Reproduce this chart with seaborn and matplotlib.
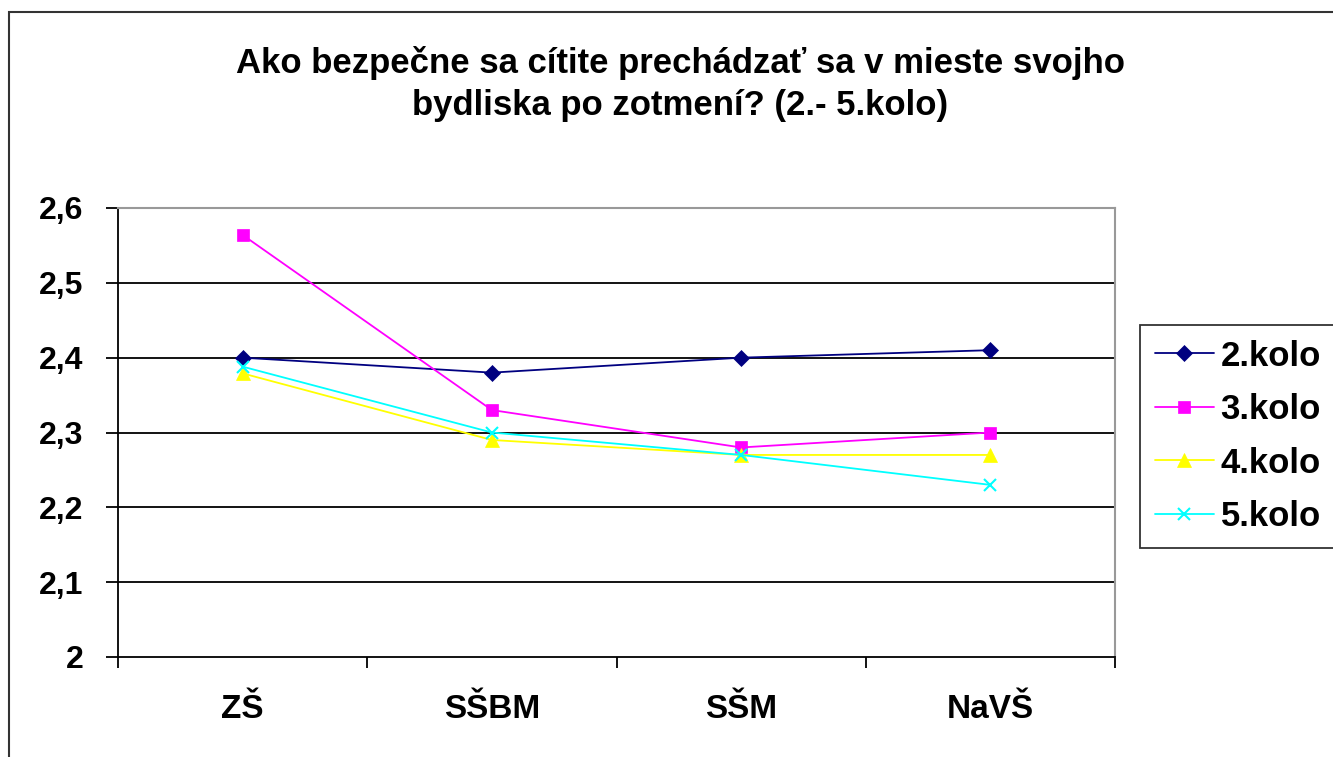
import matplotlib
matplotlib.use("Agg")
import matplotlib.pyplot as plt
import seaborn as sns
import pandas as pd
from matplotlib.patches import Rectangle

categories = ["ZŠ", "SŠBM", "SŠM", "NaVŠ"]
kolo2 = [2.40, 2.38, 2.40, 2.41]
kolo3 = [2.564, 2.33, 2.28, 2.30]
kolo4 = [2.379, 2.29, 2.27, 2.27]
kolo5 = [2.388, 2.30, 2.27, 2.23]
series_names = ["2.kolo", "3.kolo", "4.kolo", "5.kolo"]
y_ticks = [2.0, 2.1, 2.2, 2.3, 2.4, 2.5, 2.6]
y_labels = ["2", "2,1", "2,2", "2,3", "2,4", "2,5", "2,6"]

rows = []
for name, vals in zip(series_names, [kolo2, kolo3, kolo4, kolo5]):
    for i, v in enumerate(vals):
        rows.append({"x": i, "kategoria": categories[i], "kolo": name, "hodnota": v})
df = pd.DataFrame(rows)

sns.set_theme(style="white")
plt.rcParams["font.family"] = ["Liberation Sans", "DejaVu Sans"]
plt.rcParams["text.color"] = "black"
plt.rcParams["xtick.color"] = "black"
plt.rcParams["ytick.color"] = "black"

colors = {"2.kolo": "#000080", "3.kolo": "#FF00FF", "4.kolo": "#FFFF00", "5.kolo": "#00FFFF"}
markers = {"2.kolo": "D", "3.kolo": "s", "4.kolo": "^", "5.kolo": "x"}
msizes = {"2.kolo": 8, "3.kolo": 9, "4.kolo": 10, "5.kolo": 8}

fig = plt.figure(figsize=(13.33, 7.57), dpi=100)
ax = fig.add_axes([118 / 1333, 1 - 657 / 757, (1115 - 118) / 1333, (657 - 208) / 757])

# gridlines
for t in y_ticks[1:-1]:
    ax.axhline(t, color="black", lw=1.3, zorder=1)

for name in series_names:
    sub = df[df["kolo"] == name]
    sns.lineplot(data=sub, x="x", y="hodnota", ax=ax, color=colors[name], lw=1.3,
                 marker=markers[name], markersize=msizes[name],
                 markeredgecolor=colors[name], markeredgewidth=1.5 if name == "5.kolo" else 0.5,
                 label=name, zorder=3, legend=False)

ax.set_xlim(-0.5, 3.5)
ax.set_ylim(2.0, 2.6)
ax.set_yticks(y_ticks)
ax.set_yticklabels(y_labels, fontsize=23, fontweight="bold")
ax.set_xticks([-0.5, 0.5, 1.5, 2.5, 3.5])
ax.set_xticklabels([])
for i, c in enumerate(categories):
    ax.text(i, -0.116, c, transform=ax.get_xaxis_transform(), ha="center", va="center",
            fontsize=24, fontweight="bold")
ax.tick_params(axis="x", direction="out", length=8, width=1.3, bottom=True)
ax.tick_params(axis="y", direction="out", length=9, width=1.3, left=True, pad=16)
ax.set_xlabel("")
ax.set_ylabel("")

for side in ["left", "bottom"]:
    ax.spines[side].set_color("black")
    ax.spines[side].set_linewidth(1.3)
for side in ["top", "right"]:
    ax.spines[side].set_color("#999999")
    ax.spines[side].set_linewidth(1.5)

fig.text(680 / 1333, 1 - 84 / 757,
         "Ako bezpečne sa cítite prechádzať sa v mieste svojho\nbydliska po zotmení? (2.- 5.kolo)",
         ha="center", va="center", fontsize=25, fontweight="bold", linespacing=1.36)

handles, labels = ax.get_legend_handles_labels()
leg = fig.legend(handles, labels, loc="upper left", bbox_to_anchor=(1140 / 1333, 1 - 325 / 757),
                 frameon=True, fancybox=False, edgecolor="black",
                 prop={"weight": "bold", "size": 25}, handlelength=1.7, handletextpad=0.2,
                 borderpad=0.42, labelspacing=0.59, borderaxespad=0)
leg.get_frame().set_linewidth(1.3)

fig.patches.append(Rectangle((9 / 1333, -0.05), 1.1, 1 - 12 / 757 + 0.05,
                             transform=fig.transFigure, fill=False, edgecolor="#333333", lw=1.5))

fig.savefig("out.png", dpi=100, facecolor="white")
